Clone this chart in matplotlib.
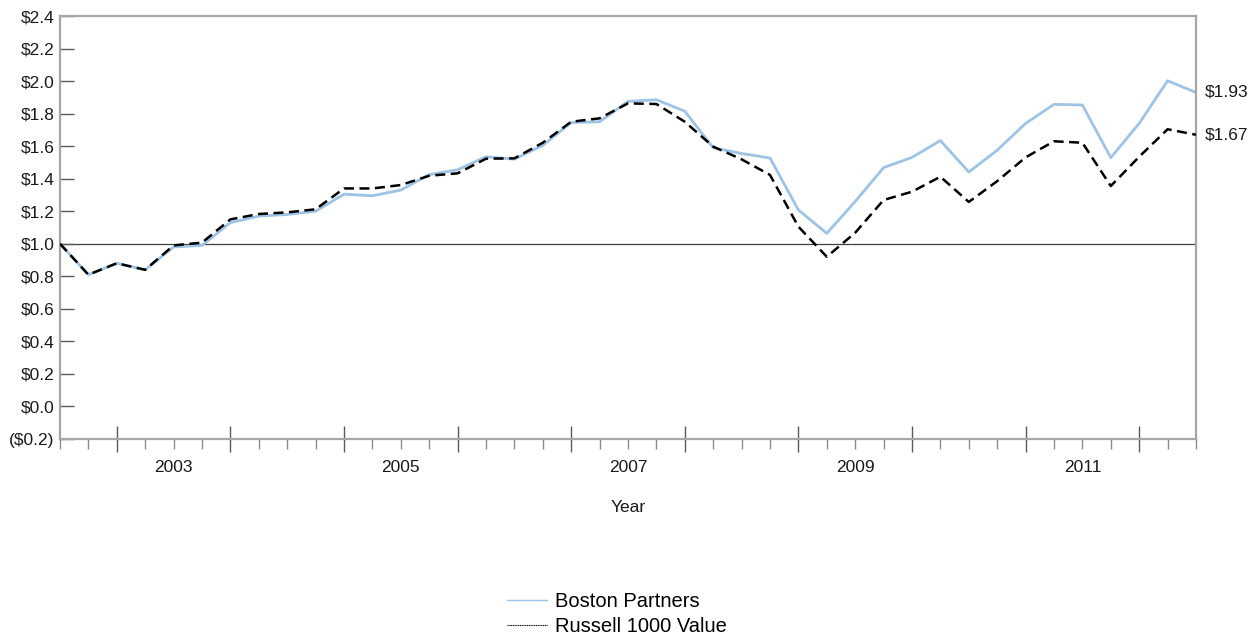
import matplotlib
matplotlib.use("Agg")
import matplotlib.pyplot as plt
from matplotlib.lines import Line2D
from matplotlib.ticker import FixedLocator, FuncFormatter

plt.rcParams['font.family'] = ['Liberation Sans', 'DejaVu Sans']

# ----------------------- Data (quarterly, Jun 2002 .. Jun 2012) -----------------------
boston = [1.00, 0.81, 0.88, 0.84, 0.98, 0.99, 1.13, 1.17, 1.18, 1.20,
          1.305, 1.295, 1.33, 1.425, 1.455, 1.535, 1.52, 1.605, 1.745, 1.75,
          1.875, 1.885, 1.815, 1.59, 1.555, 1.527, 1.208, 1.064, 1.26, 1.468,
          1.531, 1.634, 1.441, 1.575, 1.74, 1.857, 1.853, 1.529, 1.74, 2.002,
          1.93]
russell = [1.00, 0.81, 0.88, 0.84, 0.99, 1.007, 1.15, 1.183, 1.193, 1.212,
           1.34, 1.34, 1.361, 1.418, 1.433, 1.523, 1.525, 1.621, 1.75, 1.771,
           1.863, 1.859, 1.75, 1.597, 1.519, 1.423, 1.105, 0.92, 1.068, 1.269,
           1.32, 1.412, 1.257, 1.385, 1.531, 1.63, 1.621, 1.355, 1.535, 1.704,
           1.67]
start_year = 2002  # first point = mid-2002
label_years = [2003, 2005, 2007, 2009, 2011]
series_names = ["Boston Partners", "Russell 1000 Value"]

blue = "#9dc3e6"
spine_gray = "#a6a6a6"
tick_gray = "#595959"
fs = 12.5

# ----------------------- Figure -----------------------
fig = plt.figure(figsize=(12.6, 6.37), dpi=100)
ax = fig.add_axes([60 / 1260, 1 - 439 / 637, (1196 - 60) / 1260, (439 - 16) / 637])

x = list(range(len(boston)))
ax.axhline(1.0, color="#404040", lw=0.9, zorder=1)
ax.plot(x, boston, color=blue, lw=2, zorder=2)
ax.plot(x, russell, color="black", lw=1.8, dashes=(4, 2.2), zorder=3)

ax.set_xlim(0, len(boston) - 1)
ax.set_ylim(-0.2, 2.4)

for s in ax.spines.values():
    s.set_color(spine_gray)
    s.set_linewidth(1.6)

# y axis
ax.set_yticks([i / 10 for i in range(-2, 25, 2)])
ax.yaxis.set_major_formatter(FuncFormatter(
    lambda v, p: f"(${abs(v):.1f})" if v < -1e-9 else f"${abs(v):.1f}"))
ax.tick_params(axis="y", direction="in", length=10, width=1, color=tick_gray,
               labelsize=fs, pad=4, labelcolor="#1a1a1a")

# x axis: quarter ticks, year boundary ticks, labels in the middle of odd years
n_years = (len(boston) - 1) // 4
ax.xaxis.set_major_locator(FixedLocator([2 + 4 * k for k in range(n_years)]))
ax.xaxis.set_minor_locator(FixedLocator(x))
ax.set_xticklabels([])
ax.tick_params(axis="x", which="major", direction="inout", length=19, width=1,
               color=tick_gray)
ax.tick_params(axis="x", which="minor", direction="out", length=7, width=1,
               color="#8c8c8c")
for yr in label_years:
    ax.annotate(str(yr), xy=((yr - start_year) * 4, 0), xycoords=("data", "axes fraction"),
                xytext=(0, -28), textcoords="offset pixels", ha="center", va="center",
                fontsize=fs, color="#1a1a1a")
ax.annotate("Year", xy=(0.5, 0), xycoords="axes fraction", xytext=(0, -68),
            textcoords="offset pixels", ha="center", va="center", fontsize=fs,
            color="#1a1a1a")

# end labels
for vals in (boston, russell):
    ax.annotate(f"${vals[-1]:.2f}", xy=(x[-1], vals[-1]), xytext=(9, 0),
                textcoords="offset pixels", ha="left", va="center", fontsize=fs,
                color="#1a1a1a", annotation_clip=False)

# legend
leg_fs = 14.5
handles = [Line2D([], [], color=blue, lw=1),
           Line2D([], [], color="black", lw=0.8, ls=(0, (1, 0.6)))]
fig.legend(handles, series_names, loc="upper left",
           bbox_to_anchor=(507 / 1260, 1 - 592 / 637), frameon=False,
           fontsize=leg_fs, handlelength=2.0, handletextpad=0.4, labelspacing=0.3,
           borderpad=0, borderaxespad=0)

fig.savefig("out.png", dpi=100)
